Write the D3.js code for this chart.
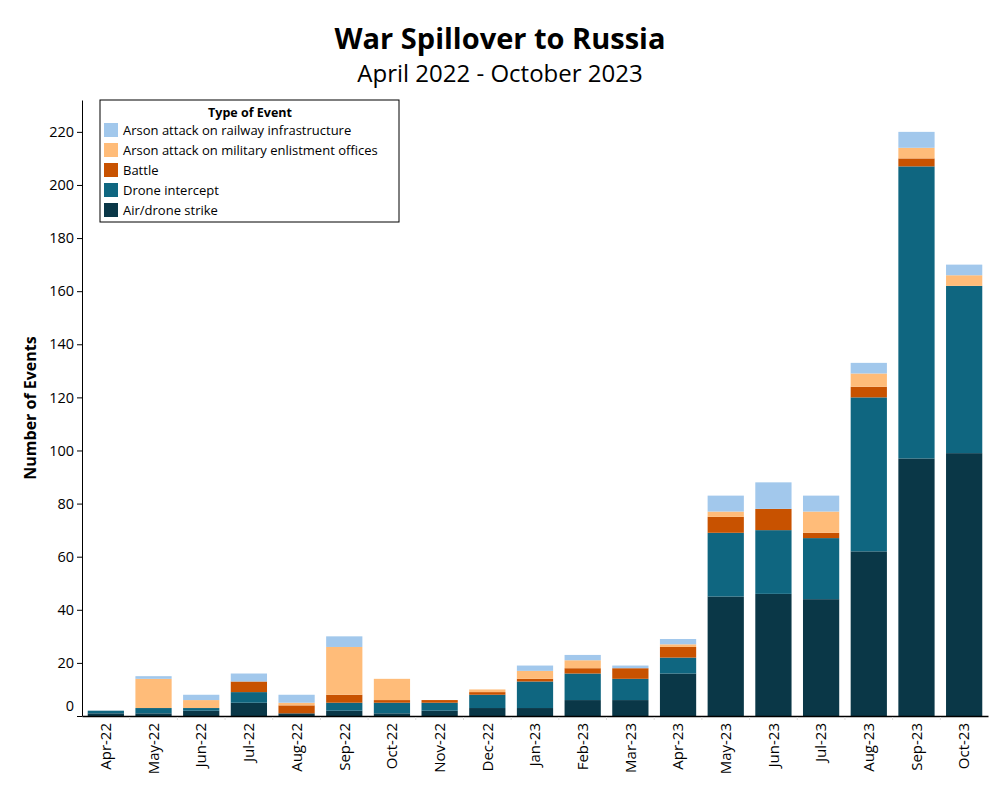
<!DOCTYPE html>
<html>
<head>
<meta charset="utf-8">
<script src="https://cdn.jsdelivr.net/npm/d3@7"></script>
<style>
  body { margin: 0; background: #fff; }
  svg { font-family: "Open Sans", sans-serif; }
</style>
</head>
<body>
<svg id="chart" width="1000" height="800"></svg>
<script>
const months = ["Apr-22","May-22","Jun-22","Jul-22","Aug-22","Sep-22","Oct-22","Nov-22","Dec-22","Jan-23","Feb-23","Mar-23","Apr-23","May-23","Jun-23","Jul-23","Aug-23","Sep-23","Oct-23"];
const airDroneStrike   = [1,1,2,5,1,2,1,2,3,3,6,6,16,45,46,44,62,97,99];
const droneIntercept   = [1,2,1,4,0,3,4,3,5,10,10,8,6,24,24,23,58,110,63];
const battle           = [0,0,0,4,3,3,1,1,1,1,2,4,4,6,8,2,4,3,0];
const arsonMilitary    = [0,11,3,0,1,18,8,0,1,3,3,0,1,2,0,8,5,4,4];
const arsonRailway     = [0,1,2,3,3,4,0,0,0,2,2,1,2,6,10,6,4,6,4];
const seriesNames = ["Air/drone strike","Drone intercept","Battle","Arson attack on military enlistment offices","Arson attack on railway infrastructure"];
const seriesColors = ["#0a3747","#0f6680","#c85200","#ffbc79","#a2c8ec"];
const yTicks = [0,20,40,60,80,100,120,140,160,180,200,220];

(function () {
const seriesValues = [airDroneStrike, droneIntercept, battle, arsonMilitary, arsonRailway];
const table = months.map((m, i) => {
  const row = { month: m };
  seriesNames.forEach((s, k) => row[s] = seriesValues[k][i]);
  return row;
});
const stacked = d3.stack().keys(seriesNames)(table);

const svg = d3.select("#chart");
const mLeft = 82, mRight = 988, mTop = 100, mBottom = 716;

const x = d3.scaleBand().domain(months).range([mLeft, mRight]).paddingInner(0.24).paddingOuter(0.12);
const y = d3.scaleLinear().domain([0, 232]).range([mBottom, mTop]);

// bars
svg.append("g").selectAll("g").data(stacked).join("g")
  .attr("fill", (d, i) => seriesColors[i])
  .selectAll("rect").data(d => d).join("rect")
  .attr("x", d => x(d.data.month))
  .attr("width", x.bandwidth())
  .attr("y", d => y(d[1]))
  .attr("height", d => y(d[0]) - y(d[1]));

// y axis
const yAxis = svg.append("g").attr("transform", `translate(${mLeft},0)`)
  .call(d3.axisLeft(y).tickValues(yTicks).tickSize(5).tickSizeOuter(0));
yAxis.select(".domain").attr("stroke", "#000");
yAxis.selectAll(".tick line").attr("stroke", "#000");
yAxis.selectAll(".tick text").attr("font-size", 14.5).attr("fill", "#000")
  .attr("font-family", "Open Sans").attr("x", -8);
yAxis.selectAll(".tick").filter(d => d === 0).select("text").attr("dy", "-0.4em");

// x axis
const xAxis = svg.append("g").attr("transform", `translate(0,${mBottom})`)
  .call(d3.axisBottom(x).tickSize(0).tickSizeOuter(0));
xAxis.select(".domain").attr("stroke", "#000").attr("stroke-width", 1.5);
xAxis.selectAll(".tick text")
  .attr("font-size", 15).attr("fill", "#000").attr("font-family", "Open Sans")
  .attr("transform", "rotate(-90)")
  .attr("text-anchor", "end")
  .attr("x", -7).attr("y", 0).attr("dy", "0.35em");
// faint separators between categories
svg.append("g").selectAll("line").data(months.slice(1)).join("line")
  .attr("x1", d => x(d) - x.step() * x.paddingInner() / 2)
  .attr("x2", d => x(d) - x.step() * x.paddingInner() / 2)
  .attr("y1", mBottom + 1).attr("y2", mBottom + 4)
  .attr("stroke", "#ddd");

// titles
svg.append("text").attr("x", 500).attr("y", 49).attr("text-anchor", "middle")
  .attr("font-size", 29).attr("font-weight", "bold").text("War Spillover to Russia");
svg.append("text").attr("x", 500).attr("y", 82).attr("text-anchor", "middle")
  .attr("font-size", 24).text("April 2022 - October 2023");
svg.append("text").attr("transform", `translate(36,${(mTop + mBottom) / 2}) rotate(-90)`)
  .attr("text-anchor", "middle").attr("font-size", 16).attr("font-weight", "bold")
  .text("Number of Events");

// legend
const lg = svg.append("g").attr("transform", "translate(100,100)");
lg.append("rect").attr("width", 299).attr("height", 122).attr("fill", "#fff").attr("stroke", "#000");
lg.append("text").attr("x", 150).attr("y", 17).attr("text-anchor", "middle")
  .attr("font-size", 12.5).attr("font-weight", "bold").text("Type of Event");
const legendOrder = [4, 3, 2, 1, 0];
legendOrder.forEach((k, i) => {
  const row = lg.append("g").attr("transform", `translate(4,${23 + i * 20})`);
  row.append("rect").attr("width", 14).attr("height", 14).attr("fill", seriesColors[k]);
  row.append("text").attr("x", 19).attr("y", 7).attr("dy", "0.35em").attr("font-size", 13).text(seriesNames[k]);
});
})();
</script>
</body>
</html>
